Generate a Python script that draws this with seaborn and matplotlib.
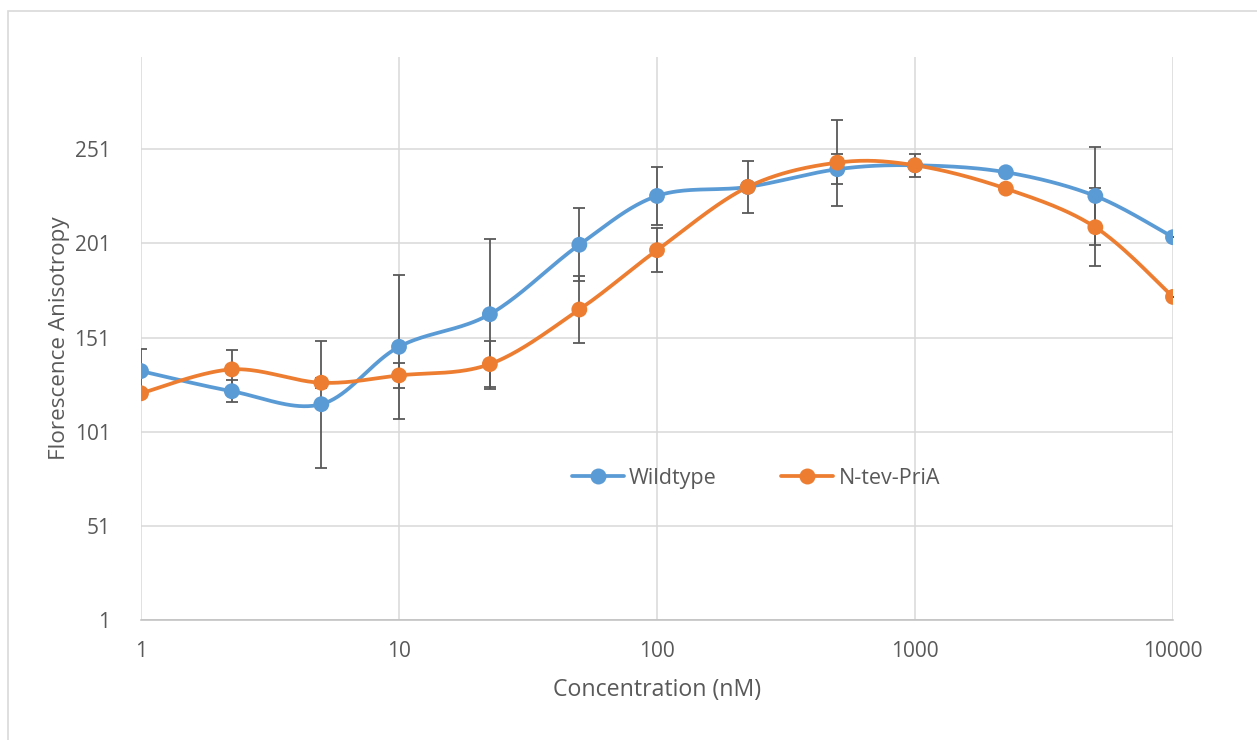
import numpy as np
import pandas as pd
import matplotlib
matplotlib.use("Agg")
import matplotlib.pyplot as plt
from matplotlib.lines import Line2D
from matplotlib.patches import Rectangle
import seaborn as sns

# ── Data ─────────────────────────────────────────────────────────────────────
conc_nM = [1, 2.25, 5, 10, 22.5, 50, 100, 225, 500, 1000, 2250, 5000, 10000]

wildtype     = [133.2, 122.5, 115.6, 146.1, 163.4, 200.3, 226.2,
                231.0, 240.4, 242.5, 238.8, 226.2, 204.3]
wildtype_err = [11.7, 5.8, 33.7, 38.2, 39.8, 19.5, 15.5,
                0, 8.0, 0, 0, 25.9, 0]

ntev_pria     = [121.4, 134.1, 127.0, 130.9, 136.9, 165.9, 197.4,
                 231.0, 243.9, 242.5, 230.1, 209.6, 172.6]
ntev_pria_err = [0, 10.1, 2.7, 6.6, 12.4, 18.0, 11.6,
                 13.6, 22.8, 6.0, 0, 20.6, 0]

y_ticks = [1, 51, 101, 151, 201, 251]
x_ticks = [1, 10, 100, 1000, 10000]

BLUE = "#5B9BD5"
ORANGE = "#ED7D31"
GREY_TXT = "#595959"
GRID = "#D9D9D9"


def smooth_curve(x, y, n=40):
    """Excel-style smoothed line (Catmull-Rom Bezier) in log10(x) / y space."""
    lx = np.log10(np.asarray(x, float))
    y = np.asarray(y, float)
    P = np.column_stack([lx, y])
    P = np.vstack([P[0], P, P[-1]])
    out = []
    t = np.linspace(0, 1, n)[:, None]
    for i in range(1, len(P) - 2):
        p0, p3 = P[i], P[i + 1]
        c1 = p0 + (P[i + 1] - P[i - 1]) / 6
        c2 = p3 - (P[i + 2] - P[i]) / 6
        seg = ((1 - t) ** 3) * p0 + 3 * ((1 - t) ** 2) * t * c1 \
            + 3 * (1 - t) * t ** 2 * c2 + t ** 3 * p3
        out.append(seg if i == 1 else seg[1:])
    out = np.vstack(out)
    return 10 ** out[:, 0], out[:, 1]


sns.set_theme(style="white")
plt.rcParams["font.family"] = ["Open Sans", "DejaVu Sans"]

fig = plt.figure(figsize=(12.57, 7.40), dpi=100)
ax = fig.add_axes([141 / 1257, 1 - 620 / 740, 1032 / 1257, 563 / 740])

df = pd.DataFrame({
    "conc": conc_nM * 2,
    "value": wildtype + ntev_pria,
    "series": ["Wildtype"] * len(conc_nM) + ["N-tev-PriA"] * len(conc_nM),
})

# smoothed lines
for vals, col in [(wildtype, BLUE), (ntev_pria, ORANGE)]:
    sx, sy = smooth_curve(conc_nM, vals)
    sns.lineplot(x=sx, y=sy, ax=ax, color=col, linewidth=2.7, sort=False,
                 zorder=3, legend=False)

# error bars
for vals, err in [(wildtype, wildtype_err), (ntev_pria, ntev_pria_err)]:
    ax.errorbar(conc_nM, vals, yerr=err, fmt="none", ecolor=GREY_TXT,
                elinewidth=1.3, capsize=4, capthick=1.3, zorder=4)

# markers
sns.scatterplot(data=df, x="conc", y="value", hue="series",
                palette={"Wildtype": BLUE, "N-tev-PriA": ORANGE},
                s=130, edgecolor="none", ax=ax, zorder=5, legend=False)

ax.set_xscale("log")
ax.set_xlim(1, 10000)
ax.set_ylim(1, 300)
ax.set_xticks(x_ticks)
ax.set_xticklabels([str(v) for v in x_ticks])
ax.minorticks_off()
ax.set_yticks(y_ticks)
ax.set_yticklabels([str(v) for v in y_ticks])

ax.grid(True, color=GRID, linewidth=1.1)
ax.set_axisbelow(True)
for side in ["top", "right", "left"]:
    ax.spines[side].set_visible(False)
ax.spines["bottom"].set_color("#BFBFBF")
ax.spines["bottom"].set_linewidth(1.1)
ax.tick_params(axis="both", length=0, labelsize=15, colors=GREY_TXT)
ax.tick_params(axis="x", pad=15)
ax.tick_params(axis="y", pad=22)

ax.set_xlabel("Concentration (nM)", fontsize=16.7, color=GREY_TXT, labelpad=12)
ax.set_ylabel("Florescence Anisotropy", fontsize=16.2, color=GREY_TXT, labelpad=3)

handles = [
    Line2D([], [], color=BLUE, linewidth=2.7, marker="o", markersize=11.5,
           markeredgewidth=0, label="Wildtype"),
    Line2D([], [], color=ORANGE, linewidth=2.7, marker="o", markersize=11.5,
           markeredgewidth=0, label="N-tev-PriA"),
]
ax.legend(handles=handles, loc="center", bbox_to_anchor=(0.596, 0.252),
          ncol=2, frameon=False, fontsize=15.5, handlelength=2.4,
          handletextpad=0.25, columnspacing=3.0, labelcolor=GREY_TXT)

# chart border (left and top edges visible in the reference)
fig.patches.append(Rectangle((7.5 / 1257, -0.1), 1.2, 1.1 - 11.5 / 740,
                             transform=fig.transFigure, fill=False,
                             edgecolor=GRID, linewidth=1.2))

fig.savefig("out.png", dpi=100)
